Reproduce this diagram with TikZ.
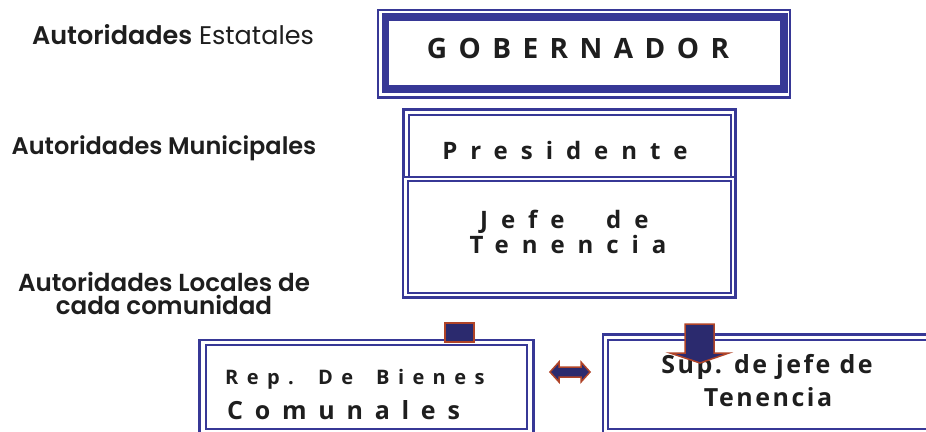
\documentclass[tikz,border=0pt]{standalone}
\usepackage{fontspec}
\setmainfont{Open Sans}
\newfontfamily\labelfont{Poppins}[BoldFont={Poppins SemiBold}]
\usetikzlibrary{calc}
\definecolor{frameblue}{RGB}{55,56,150}
\definecolor{navy}{RGB}{43,42,110}
\definecolor{arrowred}{RGB}{176,68,40}
\definecolor{textgray}{RGB}{30,30,30}
\begin{document}
\begin{tikzpicture}[x=1pt,y=-1pt,
  inbox/.style={draw=frameblue, line width=2.2pt, rectangle, inner sep=0pt, outer sep=0pt},
  thickbox/.style={draw=frameblue, line width=7.5pt, rectangle, inner sep=0pt, outer sep=0pt},
  outframe/.style={draw=frameblue, line width=2.2pt},
  btxt/.style={inner sep=0pt, text=textgray, font=\bfseries},
  midtxt/.style={btxt, font=\bfseries\fontsize{24}{26}\selectfont\addfontfeature{LetterSpace=54}},
  reptxt/.style={btxt, anchor=west, font=\bfseries\fontsize{20}{22}\selectfont\addfontfeature{LetterSpace=42}},
  lbl/.style={inner sep=0pt, align=center, text=textgray, font=\labelfont\fontsize{24}{23}\selectfont},
  arrowshape/.style={fill=navy, draw=arrowred, line width=1.5pt, line join=miter}
]
\useasboundingbox (0,0) rectangle (926,431);
\clip (0,0) rectangle (926,431);

% left labels
\node[lbl, font=\labelfont\fontsize{25.5}{24}\selectfont] (l1) at (173,35) {\textbf{Autoridades} Estatales};
\node[lbl, font=\labelfont\bfseries\fontsize{24}{23}\selectfont] (l2) at (164,148) {Autoridades Municipales};
\node[lbl, font=\labelfont\bfseries\fontsize{24.6}{23}\selectfont] (l3) at (164,293) {Autoridades Locales de\\cada comunidad};

% Gobernador
\node[thickbox, minimum width=398.5pt, minimum height=72pt] (gob) at (584.75,53) {};
\draw[outframe] ($(gob.north west)+(-7.5,-7)$) rectangle ($(gob.south east)+(6,8.5)$);
\node[btxt, font=\bfseries\fontsize{28}{30}\selectfont\addfontfeature{LetterSpace=41}] (gobt) at (578,48) {GOBERNADOR};

% Presidente
\node[inbox, minimum width=322pt, minimum height=62pt] (pres) at (570,146) {};
\draw[outframe] ($(pres.north west)+(-5.5,-5.5)$) rectangle ($(pres.south east)+(4.5,0)$);
\node[midtxt] (prest) at (565,150) {Presidente};

% Jefe de Tenencia
\node[inbox, minimum width=323pt, minimum height=112pt] (jefe) at (569.5,237) {};
\draw[outframe] ($(jefe.north west)+(-5,-4)$) rectangle ($(jefe.south east)+(4.5,4.5)$);
\node[midtxt, anchor=base west] (jefet1a) at (480,228) {Jefe};
\node[midtxt, anchor=base west] (jefet1b) at (606,228) {de};
\node[midtxt, anchor=base] (jefet2) at (568,253) {Tenencia};

% Rep. De Bienes Comunales
\node[inbox, minimum width=321pt, minimum height=84pt] (rep) at (366.5,387) {};
\draw[outframe] ($(rep.north west)+(-6.5,-5)$) rectangle ($(rep.south east)+(6.5,6)$);
\node[reptxt, anchor=base west] (rept1a) at (225,384) {Rep.};
\node[reptxt, anchor=base west] (rept1b) at (318,384) {De};
\node[reptxt, anchor=base west] (rept1c) at (376,384) {Bienes};
\node[btxt, anchor=west, font=\bfseries\fontsize{25}{27}\selectfont\addfontfeature{LetterSpace=47}] (rept2) at (227,410) {Comunales};

% Sup. de jefe de Tenencia
\node[inbox, minimum width=332pt, minimum height=89pt] (sup) at (774,384.5) {};
\draw[outframe] ($(sup.north west)+(-5,-5.5)$) rectangle ($(sup.south east)+(6,6)$);
\node[btxt, font=\bfseries\fontsize{25}{27}\selectfont\addfontfeature{LetterSpace=10}] (supt1) at (767,367) {Sup. de jefe de};
\node[btxt, font=\bfseries\fontsize{25}{27}\selectfont\addfontfeature{LetterSpace=10}] (supt2) at (768,397) {Tenencia};

% small square on top of Rep box
\node[arrowshape, rectangle, minimum width=29pt, minimum height=19pt, inner sep=0pt] (sq) at (459.5,332.5) {};

% down arrow into Sup box
\coordinate (dtip) at (700,363);
\draw[arrowshape] (685,324) -- (714,324) -- (714,353) -- (729,353) -- (dtip) -- (670,353) -- (685,353) -- cycle;

% double arrow between Rep and Sup
\coordinate (lt) at (550,372);
\coordinate (rt) at (590,372);
\draw[arrowshape] (lt) -- (559,362) -- (559,367) -- (581,367) -- (581,362) -- (rt) -- (581,382) -- (581,377) -- (559,377) -- (559,382) -- cycle;
\end{tikzpicture}
\end{document}
